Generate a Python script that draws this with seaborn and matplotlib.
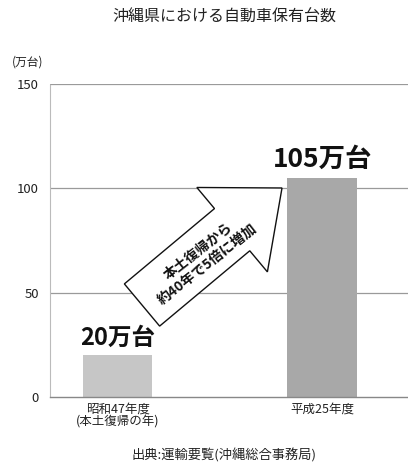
import matplotlib
matplotlib.use("Agg")
import matplotlib.pyplot as plt
import seaborn as sns
import pandas as pd
from matplotlib.patches import FancyArrow

# ─────────────────────────────────────────────
# Data
# ─────────────────────────────────────────────
categories = ["昭和47年度\n(本土復帰の年)", "平成25年度"]
values = [20, 105]
value_labels = ["20万台", "105万台"]
bar_colors = ["#c6c6c6", "#a8a8a8"]
y_ticks = [0, 50, 100, 150]

df = pd.DataFrame({"year": categories, "cars": values})

sns.set_theme(style="white")
plt.rcParams["font.family"] = ["Noto Sans CJK JP", "DejaVu Sans"]

fig = plt.figure(figsize=(4.08, 4.67), dpi=100)
ax = fig.add_axes([0.1225, 0.150, 0.8775, 0.670])

sns.barplot(data=df, x="year", y="cars", hue="year", palette=bar_colors,
            width=0.34, legend=False, ax=ax, edgecolor="none")

ax.set_ylim(0, 150)
ax.set_xlim(-0.33, 1.42)
ax.set_yticks(y_ticks)
ax.set_yticklabels([str(t) for t in y_ticks], fontsize=9.5, color="#222222")
ax.tick_params(axis="y", length=0, pad=8)
ax.set_xticks([0, 1])
ax.set_xticklabels(categories, fontsize=9, color="#222222", linespacing=1.05)
ax.tick_params(axis="x", length=0, pad=4)
ax.set_xticks([0.56], minor=True)
ax.tick_params(axis="x", which="minor", length=4, color="#888888", width=0.6)
ax.set_xlabel("")
ax.set_ylabel("")

for y in [50, 100, 150]:
    ax.axhline(y, color="#9a9a9a", lw=0.9, zorder=0)
ax.set_axisbelow(True)

for s in ["top", "right"]:
    ax.spines[s].set_visible(False)
ax.spines["left"].set_color("#bbbbbb")
ax.spines["left"].set_linestyle((0, (1, 1)))
ax.spines["left"].set_linewidth(0.8)
ax.spines["bottom"].set_color("#888888")
ax.spines["bottom"].set_linewidth(1.0)

# value labels above bars
for i, (v, lab) in enumerate(zip(values, value_labels)):
    size = 17 if i == 0 else 19
    ax.text(i, v + 2.5, lab, ha="center", va="bottom", fontsize=size,
            fontweight="bold", color="#111111")

# big arrow (in inches from figure bottom-left)
arrow = FancyArrow(1.42, 1.62, 1.40, 1.17, width=0.55, head_width=1.10,
                   head_length=0.65, length_includes_head=True,
                   facecolor="white", edgecolor="#111111", linewidth=1.0,
                   transform=fig.dpi_scale_trans, zorder=5)
fig.patches.append(arrow)
fig.text(2.03 / 4.08, 1 - 2.58 / 4.67, "本土復帰から\n約40年で5倍に増加",
         ha="center", va="center", rotation=38, fontsize=10,
         fontweight="bold", color="#111111", linespacing=1.2, zorder=6,
         multialignment="center", rotation_mode="anchor")

fig.text(0.55, 0.962, "沖縄県における自動車保有台数", ha="center", va="center",
         fontsize=11.5, color="#222222")
fig.text(0.03, 0.867, "(万台)", ha="left", va="center", fontsize=8.5,
         color="#222222")
fig.text(0.55, 0.025, "出典:運輸要覧(沖縄総合事務局)", ha="center",
         va="center", fontsize=9.5, color="#222222")

fig.savefig("out.png", dpi=100)
